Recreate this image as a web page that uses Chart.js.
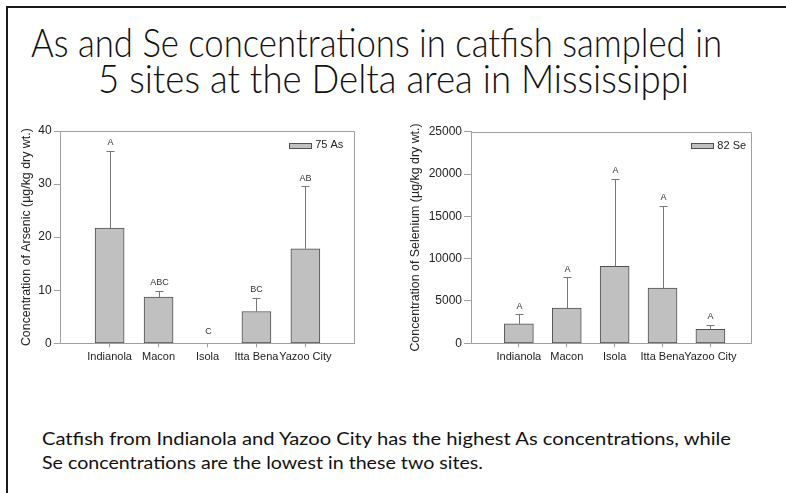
<!DOCTYPE html>
<html><head><meta charset="utf-8">
<script src="https://cdn.jsdelivr.net/npm/chart.js@4"></script>
<style>
html,body{margin:0;padding:0;background:#fff;}
#page{position:relative;width:786px;height:493px;overflow:hidden;background:#fff;}
#page svg{position:absolute;left:0;top:0;}
.cw{position:absolute;}
</style></head><body>
<div id="page">
<svg width="786" height="493" xmlns="http://www.w3.org/2000/svg">
  <line x1="7" y1="7" x2="786" y2="7" stroke="#1a1a1a" stroke-width="2"/>
  <line x1="7" y1="6" x2="7" y2="493" stroke="#1a1a1a" stroke-width="2"/>
  <g font-family="Lato, 'Open Sans', sans-serif" fill="#111">
    <text x="31" y="57" font-size="39" font-weight="300" textLength="691" lengthAdjust="spacingAndGlyphs">As and Se concentrations in catfish sampled in</text>
    <text x="98" y="93" font-size="39" font-weight="300" textLength="591" lengthAdjust="spacingAndGlyphs">5 sites at the Delta area in Mississippi</text>
    <text x="42" y="445" font-size="17.5" textLength="689" lengthAdjust="spacingAndGlyphs">Catfish from Indianola and Yazoo City has the highest As concentrations, while</text>
    <text x="42" y="469" font-size="17.5" textLength="441" lengthAdjust="spacingAndGlyphs">Se concentrations are the lowest in these two sites.</text>
  </g>
</svg>
<div class="cw" style="left:10px;top:120px;"><canvas id="c1" width="360" height="255"></canvas></div>
<div class="cw" style="left:395px;top:120px;"><canvas id="c2" width="385" height="255"></canvas></div>
</div>
<script>
// ---- data ----
const categories = ['Indianola', 'Macon', 'Isola', 'Itta Bena', 'Yazoo City'];
const asLabel = '75 As';
const asMeans = [21.7, 8.7, 0, 6.0, 17.8];
const asErrors = [14.6, 1.2, 0, 2.6, 11.8];
const asLetters = ['A', 'ABC', 'C', 'BC', 'AB'];
const seLabel = '82 Se';
const seMeans = [2290, 4150, 9080, 6520, 1660];
const seErrors = [1150, 3670, 10350, 9750, 510];
const seLetters = ['A', 'A', 'A', 'A', 'A'];
const asAxisTitle = 'Concentration of Arsenic (\u00b5g/kg dry wt.)';
const seAxisTitle = 'Concentration of Selenium (\u00b5g/kg dry wt.)';
const asTickStep = 10, asMax = 40;
const seTickStep = 5000, seMax = 25000;

const FONT = "'Liberation Sans', Arial, sans-serif";
Chart.defaults.font.family = FONT;

function buildChart(id, o) {
  const errPlugin = {
    id: 'errs_' + id,
    afterDatasetsDraw(chart) {
      const ctx = chart.ctx, a = chart.chartArea, xs = chart.scales.x, ys = chart.scales.y;
      const ds = chart.data.datasets[0];
      ctx.save();
      // top/right frame
      ctx.strokeStyle = '#a0a0a0'; ctx.lineWidth = 1;
      ctx.beginPath();
      ctx.moveTo(a.left, Math.round(a.top) + 0.5);
      ctx.lineTo(Math.round(a.right) + 0.5, Math.round(a.top) + 0.5);
      ctx.lineTo(Math.round(a.right) + 0.5, a.bottom);
      ctx.stroke();
      // error bars + letters
      ctx.strokeStyle = '#777';
      ctx.fillStyle = '#333';
      ctx.font = '9px ' + FONT;
      ctx.textAlign = 'center'; ctx.textBaseline = 'middle';
      categories.forEach((c, i) => {
        const px = Math.round(xs.getPixelForValue(i + 1)) + 0.5;
        const yb = ys.getPixelForValue(o.means[i]);
        const yt = ys.getPixelForValue(o.means[i] + o.errs[i]);
        if (o.errs[i] > 0) {
          ctx.beginPath();
          ctx.moveTo(px, yb); ctx.lineTo(px, Math.round(yt) + 0.5);
          ctx.moveTo(px - 4, Math.round(yt) + 0.5); ctx.lineTo(px + 4, Math.round(yt) + 0.5);
          ctx.stroke();
        }
        ctx.fillText(o.letters[i], px, yt - (o.errs[i] > 0 ? 8 : 12));
      });
      // legend (top-right inside plot)
      ctx.font = '11px ' + FONT;
      ctx.fillStyle = '#222';
      ctx.textAlign = 'right';
      const ty = a.top + 14;
      const tr = a.right - o.legendRight;
      ctx.fillText(ds.label, tr, ty);
      const tw = ctx.measureText(ds.label).width;
      const bx = Math.round(tr - tw - 4 - 22) + 0.5, by = Math.round(ty - 2.5) + 0.5;
      ctx.fillStyle = ds.backgroundColor;
      ctx.fillRect(bx, by, 22, 5);
      ctx.strokeStyle = ds.borderColor;
      ctx.strokeRect(bx, by, 22, 5);
      ctx.restore();
    }
  };
  return new Chart(document.getElementById(id), {
    type: 'bar',
    data: {
      datasets: [{
        label: o.label,
        data: categories.map((c, i) => ({ x: i + 1, y: o.means[i] })),
        backgroundColor: '#c0c0c0',
        borderColor: '#505050',
        borderWidth: 1,
        borderSkipped: false,
        barThickness: 29
      }]
    },
    options: {
      responsive: false, animation: false, devicePixelRatio: 1,
      layout: { padding: { top: o.padTop, right: o.padRight, left: 0, bottom: 0 } },
      plugins: { legend: { display: false }, tooltip: { enabled: false } },
      scales: {
        x: {
          type: 'linear', min: 0, max: o.xMax, offset: false,
          afterBuildTicks: s => { s.ticks = categories.map((c, i) => ({ value: i + 1 })); },
          afterFit: s => { s.height = o.xHeight; },
          ticks: { callback: v => categories[v - 1] || '', autoSkip: false, maxRotation: 0, minRotation: 0, font: { size: 11 }, color: '#222', padding: 3 },
          grid: { drawOnChartArea: false, drawTicks: true, tickLength: 4, color: '#a0a0a0', offset: false },
          border: { color: '#a0a0a0' }
        },
        y: {
          min: 0, max: o.yMax,
          ticks: { stepSize: o.yStep, font: { size: 12 }, color: '#222', padding: 2, callback: v => String(v) },
          grid: { drawOnChartArea: false, tickLength: 7, color: '#a0a0a0' },
          border: { color: '#a0a0a0' },
          title: { display: true, text: o.yTitle, font: { size: 12.4 }, color: '#222', padding: o.titlePad },
          afterFit: s => { s.width = o.axisWidth; }
        }
      }
    },
    plugins: [errPlugin]
  });
}

buildChart('c1', {
  label: asLabel, means: asMeans, errs: asErrors, letters: asLetters,
  yTitle: asAxisTitle, yMax: asMax, yStep: asTickStep, xMax: 6,
  axisWidth: 50.7, titlePad: 9, padTop: 11, padRight: 15.7, xHeight: 31.7, legendRight: 11
});
buildChart('c2', {
  label: seLabel, means: seMeans, errs: seErrors, letters: seLetters,
  yTitle: seAxisTitle, yMax: seMax, yStep: seTickStep, xMax: 5.85,
  axisWidth: 76, titlePad: 13, padTop: 11.7, padRight: 28.9, xHeight: 31.7, legendRight: 5
});
</script>
</body></html>
